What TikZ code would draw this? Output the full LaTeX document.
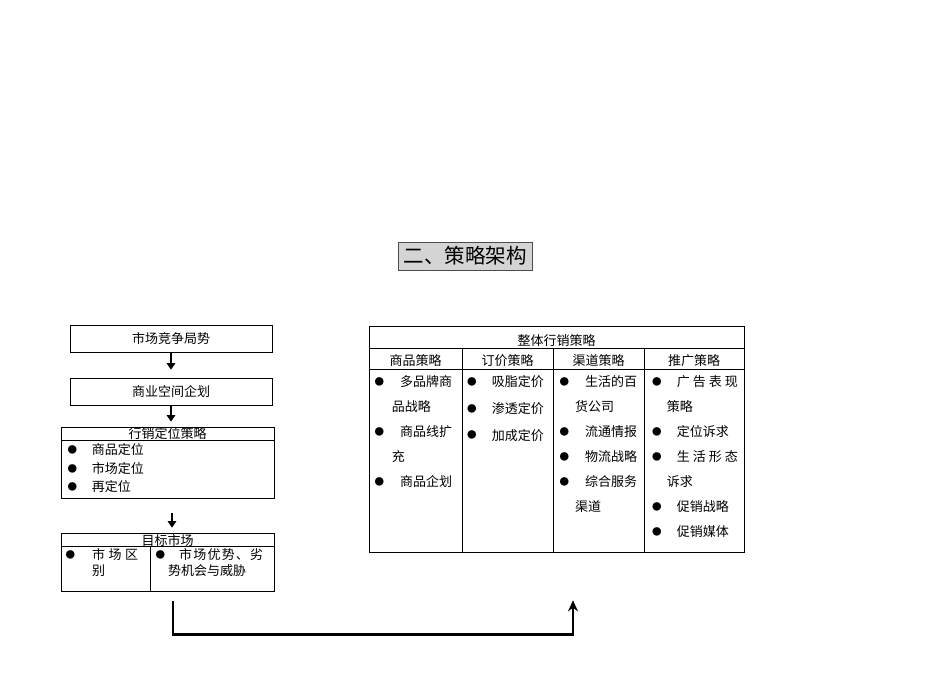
\documentclass[tikz,border=0pt]{standalone}
\usepackage{fontspec}
\newfontfamily\cjk{Noto Sans CJK SC}
\usetikzlibrary{arrows.meta,positioning,calc}
\newcommand{\bul}[1]{\makebox[#1][l]{\hspace*{1.8pt}\raisebox{1.2pt}{\fontsize{9.5}{9.5}\selectfont ●}}}

\begin{document}
\begin{tikzpicture}[x=1pt, y=-1pt,
    every node/.style={font=\cjk\fontsize{13}{16}\selectfont, inner sep=0pt},
    box/.style={draw, line width=0.7pt},
    stepdown/.style={-{Triangle[length=6.5pt, width=8.5pt]}, line width=1.9pt},
    backloop/.style={-{Stealth[length=11pt, width=10pt]}, line width=2.5pt},
    cell/.style={anchor=north west, align=left}]
  \useasboundingbox (0,0) rectangle (950,672);

  % Title
  \node[draw=black!70, fill=black!17, line width=0.9pt, minimum width=134pt, minimum height=28pt,
        font=\cjk\fontsize{20.5}{24}\selectfont] (title) at (465,256) {二、策略架构};

  % Left column - from market to target
  \node[box, minimum width=202pt, minimum height=27pt] (compete) at (171,338.5) {市场竞争局势};
  \node[box, minimum width=202pt, minimum height=27pt] (space) at (171,391.5) {商业空间企划};
  \node[box, minimum width=213pt, minimum height=71pt] (posit) at (167.5,462.5) {};
  \draw[line width=0.7pt] (61,440) -- (274,440);
  \node (positHead) at (167.5,434) {行销定位策略};
  \node[cell, font=\cjk\fontsize{13}{18.5}\selectfont] (positList) at (65.5,443.5)
    {\bul{26.2pt}商品定位\\ \bul{26.2pt}市场定位\\ \bul{26.2pt}再定位};

  \node[box, minimum width=213pt, minimum height=58pt] (target) at (167.5,562) {};
  \draw[line width=0.7pt] (61,546) -- (274,546);
  \draw[line width=0.7pt] (150,546) -- (150,591);
  \node (targetHead) at (167.5,540) {目标市场};
  \node[cell] (targetL) at (63.5,548.5)
    {\bul{28.5pt}\makebox[46pt]{市\hfill 场\hfill 区}\\ \hspace*{28.5pt}别};
  \node[cell] (targetR) at (153.5,548.5)
    {\bul{25.5pt}\makebox[84pt]{市\hfill 场\hfill 优\hfill 势\hfill 、\hfill 劣}\\ \hspace*{14.5pt}势机会与威胁};

  \draw[stepdown, shorten >=8pt] (compete) -- (space);
  \draw[stepdown, shorten >=5pt] (space.south) -- (space.south |- posit.north);
  \draw[stepdown, shorten <=15pt, shorten >=5pt] ([xshift=4.5pt]posit.south) -- ([xshift=4.5pt]target.north);

  % Right table - overall marketing strategy
  \node[box, minimum width=375pt, minimum height=226pt] (strat) at (556.5,439) {};
  \draw[line width=0.7pt] (369,348) -- (744,348);
  \draw[line width=0.7pt] (369,369) -- (744,369);
  \foreach \cx in {462,553,644}
    \draw[line width=0.7pt] (\cx,348) -- (\cx,552);
  \node (stratHead) at (556.5,341) {整体行销策略};
  \foreach \cx/\lbl [count=\i] in {415.5/商品策略, 507.5/订价策略, 598.5/渠道策略, 694/推广策略}
    \node (head\i) at (\cx,361) {\lbl};

  \node[cell, font=\cjk\fontsize{13}{25}\selectfont] (goods) at (372.5,375.5)
    {\bul{27.5pt}多品牌商\\ \hspace*{19.2pt}品战略\\ \bul{27.5pt}商品线扩\\ \hspace*{19.2pt}充\\ \bul{27.5pt}商品企划};
  \node[cell, font=\cjk\fontsize{13}{26.7}\selectfont] (price) at (465.2,375.5)
    {\bul{26.5pt}吸脂定价\\ \bul{26.5pt}渗透定价\\ \bul{26.5pt}加成定价};
  \node[cell, font=\cjk\fontsize{13}{25}\selectfont] (channel) at (557.5,375.5)
    {\bul{27.5pt}生活的百\\ \hspace*{17.5pt}货公司\\ \bul{27.5pt}流通情报\\ \bul{27.5pt}物流战略\\ \bul{27.5pt}综合服务\\ \hspace*{17.5pt}渠道};
  \node[cell, font=\cjk\fontsize{13}{25}\selectfont] (promo) at (650,375.5)
    {\bul{26.7pt}\makebox[61pt]{广\hfill 告\hfill 表\hfill 现}\\ \hspace*{16.7pt}策略\\ \bul{26.7pt}定位诉求\\
     \bul{26.7pt}\makebox[61pt]{生\hfill 活\hfill 形\hfill 态}\\ \hspace*{16.7pt}诉求\\ \bul{26.7pt}促销战略\\ \bul{26.7pt}促销媒体};

  % Loop back from target market to the strategy table
  \draw[backloop, shorten <=10pt, shorten >=48pt] ([xshift=5.5pt]target.south) -- ++(0,43) -| ([xshift=16.5pt]strat.south);
\end{tikzpicture}
\end{document}
